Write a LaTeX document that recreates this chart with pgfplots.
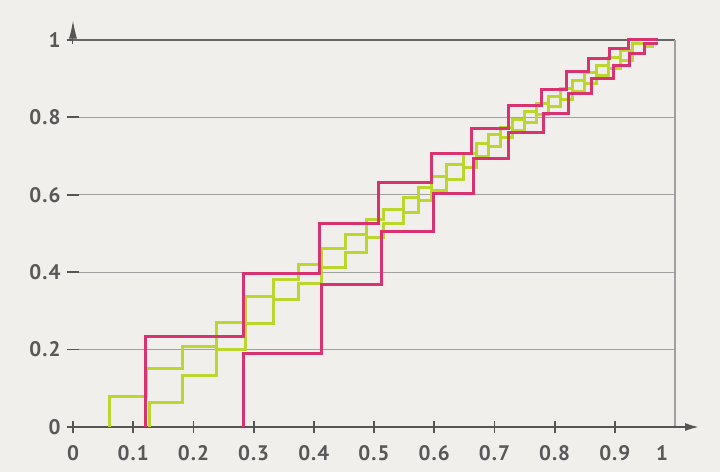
\documentclass[border=0pt]{standalone}
\usepackage{pgfplots}
\pgfplotsset{compat=1.18}
\usepackage{fontspec}
\setmainfont{PT Sans}[LetterSpace=5]
\usetikzlibrary{arrows.meta}
\definecolor{bg}{RGB}{241,239,235}
\definecolor{mag}{RGB}{216,50,112}
\definecolor{lime}{RGB}{188,214,46}
\definecolor{labgray}{RGB}{88,88,88}
\definecolor{axgray}{RGB}{85,85,85}
\definecolor{gridgray}{RGB}{160,160,160}
\begin{document}
\begin{tikzpicture}
\fill[bg] (-73bp,-45bp) rectangle (647bp,427bp);
\begin{axis}[
  scale only axis, width=602bp, height=387bp,
  xmin=0, xmax=1, ymin=0, ymax=1,
  axis line style={draw=none},
  clip=false,
  xtick={0,0.1,0.2,0.3,0.4,0.5,0.6,0.7,0.8,0.9},
  extra x ticks={1},
  extra x tick style={xticklabel style={xshift=-13bp}, tick style={draw=none}},
  ytick={0,0.2,0.4,0.6,0.8,1},
  xtick pos=bottom, ytick pos=left,
  ymajorgrids, grid style={draw=gridgray, line width=1.1bp},
  tick style={draw=axgray, line width=1.8bp},
  major tick length=12bp, tick align=center,
  ticklabel style={font=\fontsize{21bp}{24bp}\selectfont\bfseries, text=labgray},
  /pgf/number format/assume math mode=true,
  xticklabel style={yshift=-9bp},
  yticklabel style={xshift=-3bp},
]
% frame pieces
\draw[draw=gray!80!black, line width=1.2bp] (axis cs:0,1) -- (axis cs:1,1);
\draw[draw=gridgray, line width=1.1bp] (axis cs:1,0) -- (axis cs:1,1);
\draw[draw=axgray, line width=2bp, -{Latex[length=14bp,width=8bp]}] (axis cs:0,0) -- (axis cs:1.04,0);
\draw[draw=axgray, line width=1bp, -{Latex[length=18bp,width=8bp]}] (axis cs:0,0.99) -- (axis cs:0,1.05);
% green pair
\addplot[const plot, draw=lime, line width=3bp] coordinates {
(0.060,0) (0.060,0.080) (0.122,0.152) (0.182,0.207) (0.239,0.270) (0.286,0.337)
(0.333,0.382) (0.374,0.420) (0.413,0.460) (0.452,0.498) (0.488,0.535) (0.515,0.562)
(0.549,0.592) (0.574,0.618) (0.596,0.648) (0.621,0.678) (0.649,0.708) (0.671,0.733)
(0.690,0.755) (0.710,0.775) (0.730,0.795) (0.750,0.815) (0.770,0.835) (0.790,0.855)
(0.810,0.875) (0.830,0.895) (0.850,0.915) (0.870,0.935) (0.890,0.955) (0.910,0.972)
(0.930,0.990) (0.950,0.990)};
\addplot[const plot, draw=lime, line width=3bp] coordinates {
(0.127,0) (0.127,0.063) (0.182,0.134) (0.239,0.199) (0.286,0.268) (0.333,0.330)
(0.374,0.372) (0.413,0.412) (0.452,0.452) (0.488,0.490) (0.515,0.527) (0.549,0.554)
(0.574,0.585) (0.596,0.610) (0.621,0.640) (0.649,0.670) (0.671,0.700) (0.690,0.725)
(0.710,0.747) (0.730,0.767) (0.750,0.787) (0.770,0.807) (0.790,0.827) (0.810,0.847)
(0.830,0.867) (0.850,0.887) (0.870,0.907) (0.890,0.927) (0.910,0.947) (0.930,0.964)
(0.950,0.982) (0.965,0.982)};
% magenta pair
\addplot[const plot, draw=mag, line width=3bp] coordinates {
(0.120,0) (0.120,0.235) (0.284,0.397) (0.410,0.526) (0.507,0.632) (0.596,0.707)
(0.662,0.772) (0.723,0.830) (0.779,0.871) (0.820,0.918) (0.856,0.953) (0.892,0.979)
(0.923,1.0) (0.972,1.0)};
\addplot[const plot, draw=mag, line width=3bp] coordinates {
(0.284,0) (0.284,0.190) (0.413,0.367) (0.513,0.505) (0.599,0.604) (0.665,0.694)
(0.723,0.761) (0.781,0.810) (0.823,0.862) (0.862,0.901) (0.898,0.935) (0.925,0.966)
(0.950,0.991) (0.972,0.991)};
\end{axis}
\pgfresetboundingbox
\path[use as bounding box] (-73bp,-45bp) rectangle (647bp,427bp);
\end{tikzpicture}
\end{document}
